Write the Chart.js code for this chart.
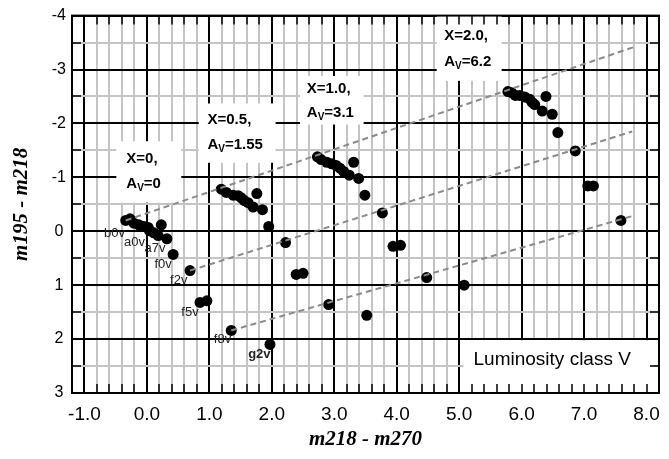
<!DOCTYPE html>
<html>
<head>
<meta charset="utf-8">
<title>m195 - m218 vs m218 - m270</title>
<script src="https://cdn.jsdelivr.net/npm/chart.js@4.4.0/dist/chart.umd.min.js"></script>
<style>
  html, body { margin: 0; padding: 0; background: #fff; }
</style>
</head>
<body>
<canvas id="chart" width="669" height="459"></canvas>
<script>
// Stars for each amount of reddening (x = m218 - m270, y = m195 - m218)
const starsX_A0 = [-0.34, -0.27, -0.21, -0.13, -0.05, 0.02, 0.04, 0.11, 0.18, 0.23, 0.32, 0.42, 0.69, 0.85, 0.96, 1.35, 1.97]
const starsY_A0 = [-0.20, -0.23, -0.15, -0.12, -0.09, -0.07, -0.01, 0.03, 0.08, -0.12, 0.14, 0.43, 0.73, 1.32, 1.29, 1.84, 2.10]

const starsX_A155 = [1.19, 1.27, 1.38, 1.46, 1.51, 1.56, 1.62, 1.70, 1.76, 1.85, 1.95, 2.22, 2.39, 2.50, 2.91, 3.52]
const starsY_A155 = [-0.78, -0.72, -0.67, -0.66, -0.62, -0.57, -0.53, -0.45, -0.70, -0.40, -0.09, 0.21, 0.80, 0.78, 1.36, 1.56]

const starsX_A31 = [2.73, 2.79, 2.88, 2.96, 3.03, 3.09, 3.15, 3.24, 3.31, 3.39, 3.49, 3.77, 3.94, 4.06, 4.48, 5.08]
const starsY_A31 = [-1.38, -1.33, -1.28, -1.25, -1.22, -1.17, -1.11, -1.04, -1.28, -0.98, -0.67, -0.34, 0.28, 0.26, 0.86, 1.00]

const starsX_A62 = [5.78, 5.84, 5.90, 5.97, 6.05, 6.13, 6.17, 6.21, 6.33, 6.39, 6.49, 6.58, 6.86, 7.06, 7.15, 7.59]
const starsY_A62 = [-2.59, -2.57, -2.52, -2.52, -2.49, -2.45, -2.39, -2.35, -2.23, -2.50, -2.17, -1.83, -1.49, -0.84, -0.84, -0.20]

// Reddening vectors (dashed)
const vectorStartX = [-0.34, 0.69, 1.35]
const vectorStartY = [-0.20, 0.73, 1.84]
const vectorEndX = [7.83, 7.77, 7.80]
const vectorEndY = [-3.43, -1.85, -0.29]

// Reddening labels
const reddeningX = ["0", "0.5", "1.0", "2.0"]
const reddeningAv = ["0", "1.55", "3.1", "6.2"]

// Spectral type labels
const spectralTypes = ["b0v", "a0v", "a7v", "f0v", "f2v", "f5v", "f8v", "g2v"]

// Axis ranges and steps
const xMin = -1.2
const xMax = 8.2
const xStep = 0.2
const yMin = -4
const yMax = 3
const yStep = 0.5

// Placement of the text boxes (data units)
const labelBoxes = [
  { left: -0.49, top: -1.67, right: 0.55, bottom: -0.53, textX: -0.33, row1: -1.34, row2: -0.88 },
  { left: 0.83, top: -2.37, right: 2.06, bottom: -1.27, textX: 0.97, row1: -2.07, row2: -1.60 },
  { left: 2.45, top: -2.88, right: 3.47, bottom: -1.98, textX: 2.56, row1: -2.65, row2: -2.19 },
  { left: 4.64, top: -4.0, right: 5.68, bottom: -2.79, textX: 4.76, row1: -3.62, row2: -3.14 },
]
const classBox = { left: 5.07, top: 2.02, right: 8.08, bottom: 3.0, textX: 5.23, row: 2.39, text: "Luminosity class V" }
const spectralPos = [
  [-0.52, 0.04], [-0.20, 0.20], [0.13, 0.32], [0.26, 0.61],
  [0.51, 0.92], [0.69, 1.51], [1.21, 2.0], [1.80, 2.28],
]

const SANS = "'Liberation Sans', Arial, sans-serif"
const SERIF = "'Liberation Serif', 'Times New Roman', serif"

function isMajor(v) {
  return Math.abs(v - Math.round(v)) < 1e-6
}

function toPoints(xs, ys) {
  return xs.map((x, i) => ({ x: x, y: ys[i] }))
}

// Draw "A" with subscript "V" and a value
function drawAv(ctx, px, py, value) {
  ctx.font = "bold 15px " + SANS
  ctx.fillText("A", px, py)
  let w = ctx.measureText("A").width
  ctx.font = "bold 10px " + SANS
  ctx.fillText("V", px + w, py + 4)
  w += ctx.measureText("V").width
  ctx.font = "bold 15px " + SANS
  ctx.fillText("=" + value, px + w, py)
}

const decorPlugin = {
  id: "decor",
  beforeDatasetsDraw(chart) {
    const { ctx } = chart
    const x = chart.scales.x
    const y = chart.scales.y
    ctx.save()
    ctx.fillStyle = "#fff"
    labelBoxes.concat([classBox]).forEach((b) => {
      const l = x.getPixelForValue(b.left)
      const r = x.getPixelForValue(b.right)
      const t = y.getPixelForValue(b.top)
      const bt = y.getPixelForValue(b.bottom)
      ctx.fillRect(l, t, r - l, bt - t)
    })
    ctx.restore()
  },
  afterDatasetsDraw(chart) {
    const { ctx, chartArea } = chart
    const x = chart.scales.x
    const y = chart.scales.y
    ctx.save()
    ctx.fillStyle = "#000"
    ctx.textBaseline = "middle"
    ctx.textAlign = "left"

    // Reddening boxes
    labelBoxes.forEach((b, i) => {
      const px = x.getPixelForValue(b.textX)
      ctx.font = "bold 15px " + SANS
      ctx.fillText("X=" + reddeningX[i] + ",", px, y.getPixelForValue(b.row1))
      drawAv(ctx, px, y.getPixelForValue(b.row2), reddeningAv[i])
    })

    // Luminosity class
    ctx.font = "19px " + SANS
    ctx.fillText(classBox.text, x.getPixelForValue(classBox.textX), y.getPixelForValue(classBox.row))

    // Spectral types
    ctx.textAlign = "center"
    ctx.fillStyle = "#222"
    spectralTypes.forEach((t, i) => {
      ctx.font = (t === "g2v" ? "bold " : "") + "13px " + SANS
      ctx.fillText(t, x.getPixelForValue(spectralPos[i][0]), y.getPixelForValue(spectralPos[i][1]))
    })

    // Inner tick marks on all four sides
    ctx.strokeStyle = "#000"
    ctx.lineWidth = 1.5
    ctx.beginPath()
    x.ticks.forEach((t) => {
      const px = Math.round(x.getPixelForValue(t.value))
      ctx.moveTo(px, chartArea.top)
      ctx.lineTo(px, chartArea.top + 9)
      ctx.moveTo(px, chartArea.bottom)
      ctx.lineTo(px, chartArea.bottom - 9)
    })
    y.ticks.forEach((t) => {
      const py = Math.round(y.getPixelForValue(t.value))
      ctx.moveTo(chartArea.left, py)
      ctx.lineTo(chartArea.left + 9, py)
      ctx.moveTo(chartArea.right, py)
      ctx.lineTo(chartArea.right - 9, py)
    })
    ctx.stroke()

    // Frame
    ctx.lineWidth = 2
    ctx.strokeRect(chartArea.left, chartArea.top, chartArea.right - chartArea.left, chartArea.bottom - chartArea.top)
    ctx.restore()
  },
}

const starStyle = {
  backgroundColor: "#000",
  borderColor: "#000",
  borderWidth: 0,
  pointRadius: 5.5,
}

const vectorSets = vectorStartX.map((sx, i) => ({
  data: [{ x: sx, y: vectorStartY[i] }, { x: vectorEndX[i], y: vectorEndY[i] }],
  showLine: true,
  borderColor: "#8a8a8a",
  borderWidth: 2,
  borderDash: [6, 4],
  pointRadius: 0,
  fill: false,
}))

const ctx = document.getElementById("chart").getContext("2d")

new Chart(ctx, {
  type: "scatter",
  data: {
    datasets: vectorSets.concat([
      Object.assign({ data: toPoints(starsX_A0, starsY_A0) }, starStyle),
      Object.assign({ data: toPoints(starsX_A155, starsY_A155) }, starStyle),
      Object.assign({ data: toPoints(starsX_A31, starsY_A31) }, starStyle),
      Object.assign({ data: toPoints(starsX_A62, starsY_A62) }, starStyle),
    ]),
  },
  options: {
    responsive: false,
    animation: false,
    layout: { padding: { top: 12, right: 5, left: 0, bottom: 0 } },
    plugins: {
      legend: { display: false },
      tooltip: { enabled: false },
    },
    scales: {
      x: {
        type: "linear",
        min: xMin,
        max: xMax,
        afterFit: (scale) => { scale.height = 66 },
        grid: {
          color: (c) => (isMajor(c.tick.value) ? "#000" : "#c4c4c4"),
          lineWidth: 2,
          drawTicks: false,
        },
        border: { display: false },
        ticks: {
          stepSize: xStep,
          autoSkip: false,
          maxRotation: 0,
          padding: 10,
          color: "#000",
          font: { family: SANS, size: 19 },
          callback: (v) => (isMajor(v) ? Math.round(v).toFixed(1) : ""),
        },
        title: {
          display: true,
          text: "m218 - m270",
          color: "#000",
          font: { family: SERIF, size: 21, weight: "bold", style: "italic" },
          padding: { top: 0, bottom: 7 },
        },
      },
      y: {
        type: "linear",
        min: yMin,
        max: yMax,
        reverse: true,
        afterFit: (scale) => { scale.width = 72 },
        grid: {
          color: (c) => (isMajor(c.tick.value) ? "#000" : "#c4c4c4"),
          lineWidth: 2,
          drawTicks: false,
        },
        border: { display: false },
        ticks: {
          stepSize: yStep,
          autoSkip: false,
          crossAlign: "center",
          padding: 6,
          color: "#000",
          font: { family: SANS, size: 16 },
          callback: (v) => (isMajor(v) ? String(Math.round(v)) : ""),
        },
        title: {
          display: true,
          text: "m195 - m218",
          color: "#000",
          font: { family: SERIF, size: 21, weight: "bold", style: "italic" },
          padding: { top: 9, bottom: 0 },
        },
      },
    },
  },
  plugins: [decorPlugin],
})
</script>
</body>
</html>
